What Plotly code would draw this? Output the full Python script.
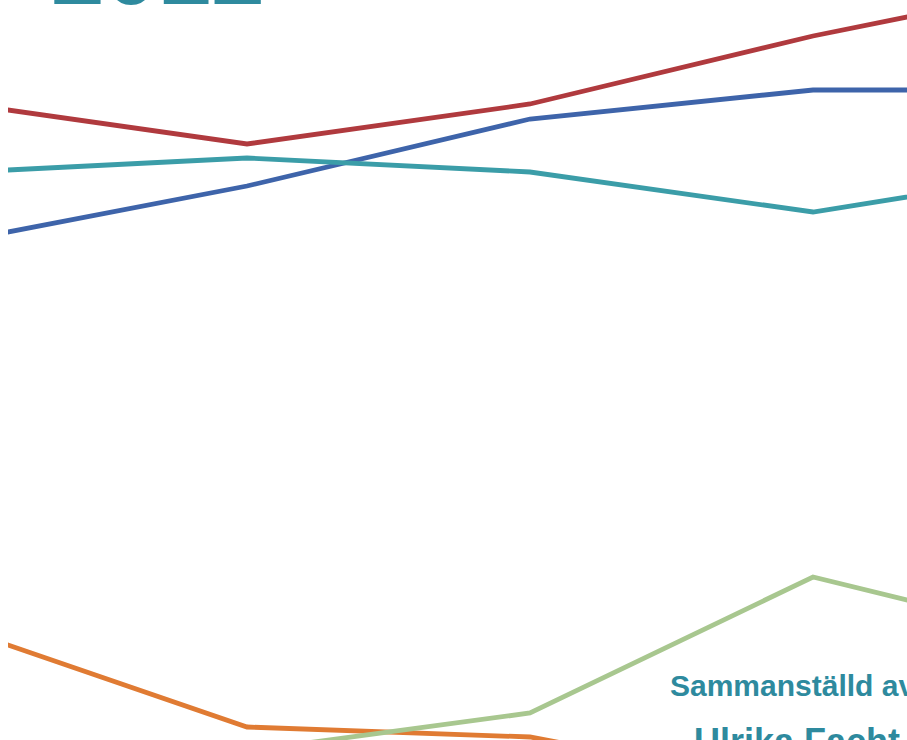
import plotly.graph_objects as go

years = [2008, 2009, 2010, 2011, 2012]

series_names = ["Röd", "Blå", "Turkos", "Orange", "Grön"]
red_values = [636.3, 596, 636, 704, 761.2]
blue_values = [499.5, 554, 621, 650, 650]
teal_values = [567.8, 582, 568, 528, 573]
orange_values = [110.1, 13, 3, -50, -60]
green_values = [-60, -11, 27, 163, 94]

colors = ["#B03A3E", "#3E64AA", "#3B9DA8", "#E07B33", "#A8C78F"]
all_values = [red_values, blue_values, teal_values, orange_values, green_values]

W, H = 907, 740
ML = 8
fig = go.Figure()
for name, vals, col in zip(series_names, all_values, colors):
    fig.add_trace(go.Scatter(x=years, y=vals, mode="lines", name=name,
                             line=dict(color=col, width=4.8), hoverinfo="skip"))

PW = W - ML
def px(sx):
    return (sx - ML) / PW
def py(sy):
    return 1 - sy / H

font_family = "Liberation Sans, Arial, sans-serif"
text_color = "#2E8A9E"

annotations = [
    dict(text="<b>2012</b>", x=px(49), y=py(3 - 0.905 * 96 - 1), size=96),
    dict(text="<b>Sammanställd av</b>", x=px(668), y=py(695 - 0.905 * 30 - 1), size=30),
    dict(text="<b>Ulrika Facht</b>", x=px(692), y=py(753 - 0.905 * 36 - 1), size=36),
]
for a in annotations:
    fig.add_annotation(text=a["text"], x=a["x"], y=a["y"], xref="paper", yref="paper",
                       xanchor="left", yanchor="top", showarrow=False,
                       font=dict(family=font_family, size=a["size"], color=text_color))

x0 = 2009 - (247 - ML) / 283
x1 = 2009 + (W - 247) / 283
fig.update_layout(
    width=W, height=H,
    margin=dict(l=ML, r=0, t=0, b=0, pad=0),
    paper_bgcolor="white", plot_bgcolor="white",
    showlegend=False,
    xaxis=dict(range=[x0, x1], visible=False, fixedrange=True),
    yaxis=dict(range=[0, H], visible=False, fixedrange=True),
)
fig.write_html(
    "out.html",
    config={"displayModeBar": False},
    default_width="907px",
    default_height="740px",
    post_script="document.body.style.margin='0';document.body.style.overflow='hidden';",
)
